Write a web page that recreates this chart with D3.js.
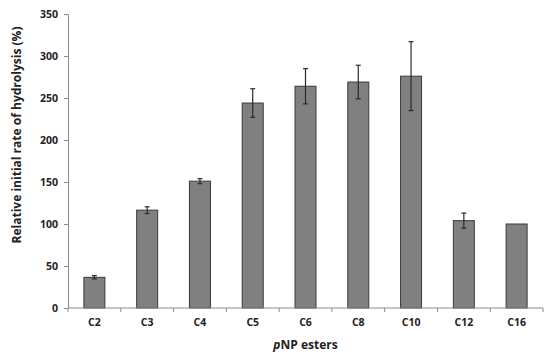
<!DOCTYPE html>
<html><head><meta charset="utf-8">
<script src="https://cdn.jsdelivr.net/npm/d3@7"></script>
<style>body{margin:0;background:#fff}svg{display:block}</style>
</head><body>
<script>
const categories = ["C2","C3","C4","C5","C6","C8","C10","C12","C16"];
const values = [36.5, 116.5, 151, 244, 264, 269, 276, 104, 100];
const errors = [2, 4, 3, 17, 21, 20, 41, 9, 0];
const yTicks = [0,50,100,150,200,250,300,350];

const W = 550, H = 359;
const m = {left:68, right:7, top:14, bottom:51};
const svg = d3.select("body").append("svg").attr("width",W).attr("height",H);
const xb = d3.scaleBand().domain(categories).range([m.left, W-m.right]);
const y = d3.scaleLinear().domain([0,350]).range([H-m.bottom, m.top]);
const font = "'Open Sans', 'Liberation Sans', sans-serif";
const axisCol = "#8c8c8c";

// bars
svg.append("g").selectAll("rect").data(categories).join("rect")
  .attr("x", d => xb(d) + xb.bandwidth()/2 - 10.5)
  .attr("width", 21)
  .attr("y", (d,i) => y(values[i]))
  .attr("height", (d,i) => y(0) - y(values[i]))
  .attr("fill", "#808080").attr("stroke", "#3a3a3a").attr("stroke-width", 1);

// error bars
const eg = svg.append("g").attr("stroke","#2a2a2a").attr("stroke-width",1.2);
categories.forEach((c,i) => {
  if (!errors[i]) return;
  const cx = xb(c) + xb.bandwidth()/2;
  eg.append("line").attr("x1",cx).attr("x2",cx).attr("y1",y(values[i]+errors[i])).attr("y2",y(values[i]-errors[i]));
  [values[i]+errors[i], values[i]-errors[i]].forEach(v => {
    eg.append("line").attr("x1",cx-2.5).attr("x2",cx+2.5).attr("y1",y(v)).attr("y2",y(v));
  });
});

// y axis
const ya = svg.append("g").attr("transform",`translate(${m.left},0)`)
  .call(d3.axisLeft(y).tickValues(yTicks).tickSize(4).tickPadding(6));
ya.select(".domain").attr("stroke",axisCol);
ya.selectAll(".tick line").attr("stroke",axisCol);
ya.selectAll("text").attr("font-family",font).attr("font-weight","bold").attr("font-size","10.5px").attr("fill","#222");

// x axis
const xa = svg.append("g").attr("transform",`translate(0,${y(0)})`)
  .call(d3.axisBottom(xb).tickSize(0).tickPadding(11));
xa.select(".domain").attr("stroke",axisCol).attr("d",`M${m.left},0H${W-m.right}`);
xa.selectAll("text").attr("font-family",font).attr("font-weight","bold").attr("font-size","10.5px").attr("fill","#222");
const bounds = categories.map(c => xb(c)).concat([W-m.right]);
xa.append("g").selectAll("line").data(bounds).join("line")
  .attr("x1",d=>d).attr("x2",d=>d).attr("y1",0).attr("y2",4).attr("stroke",axisCol);

// axis titles
const xt = svg.append("text").attr("x",(m.left+W-m.right)/2).attr("y",349)
  .attr("text-anchor","middle").attr("font-family",font).attr("font-weight","bold").attr("font-size","12px").attr("fill","#222");
xt.append("tspan").attr("font-style","italic").text("p");
xt.append("tspan").text("NP esters");

svg.append("text").attr("transform","translate(21,135) rotate(-90)")
  .attr("text-anchor","middle").attr("font-family",font).attr("font-weight","bold").attr("font-size","12px").attr("fill","#222")
  .attr("textLength",217).attr("lengthAdjust","spacingAndGlyphs")
  .text("Relative initial rate of hydrolysis (%)");
</script>
</body></html>
